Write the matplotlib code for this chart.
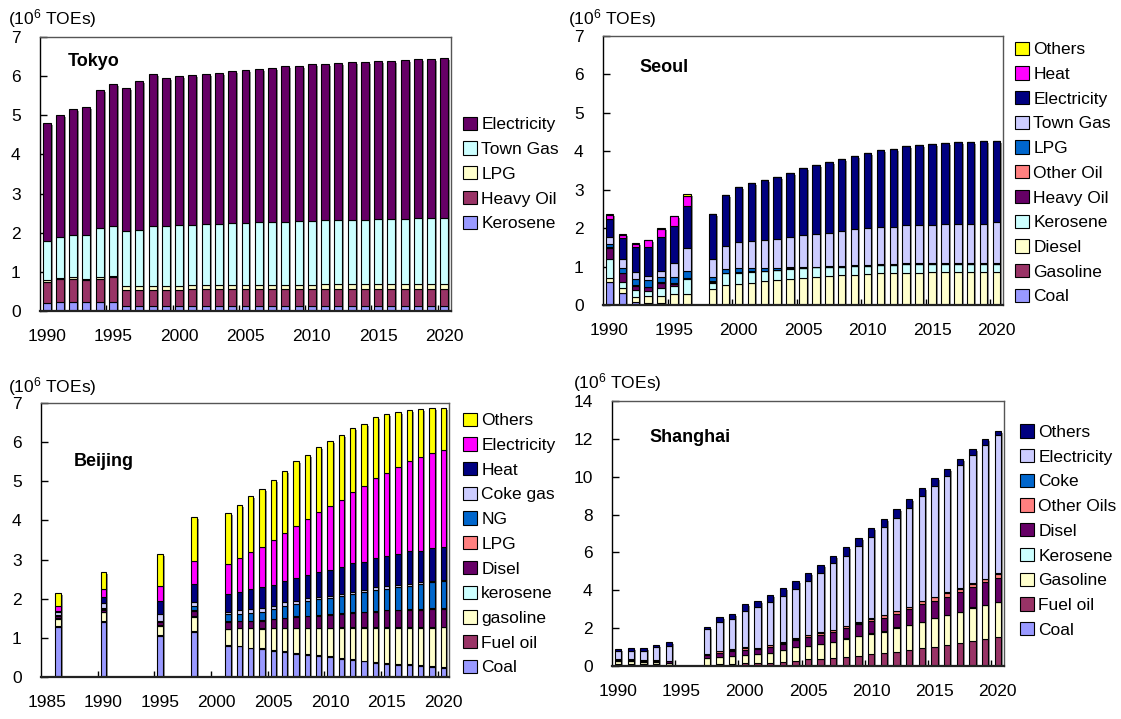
import numpy as np
import matplotlib
matplotlib.use("Agg")
import matplotlib.pyplot as plt
import matplotlib.transforms as mtransforms
from matplotlib.patches import Patch

plt.rcParams['font.family'] = ['Liberation Sans', 'DejaVu Sans']
plt.rcParams['mathtext.fontset'] = 'custom'
plt.rcParams['mathtext.rm'] = 'Liberation Sans'
plt.rcParams['mathtext.default'] = 'regular'

# ---------------- Tokyo (1990-2020) ----------------
tokyo_years = list(range(1990, 2021))
tokyo_kerosene = [0.20, 0.23, 0.23, 0.23, 0.23, 0.24, 0.12, 0.12, 0.12, 0.12, 0.12, 0.12, 0.12, 0.12, 0.12, 0.12,
                  0.12, 0.12, 0.12, 0.12, 0.12, 0.12, 0.12, 0.12, 0.12, 0.12, 0.12, 0.12, 0.12, 0.12, 0.12]
tokyo_heavy_oil = [0.55, 0.58, 0.60, 0.56, 0.60, 0.62, 0.42, 0.42, 0.42, 0.42, 0.42, 0.43, 0.43, 0.43, 0.43, 0.43,
                   0.43, 0.43, 0.43, 0.43, 0.43, 0.44, 0.44, 0.44, 0.44, 0.44, 0.44, 0.44, 0.44, 0.44, 0.44]
tokyo_lpg = [0.03, 0.03, 0.03, 0.03, 0.03, 0.03, 0.10, 0.10, 0.11, 0.11, 0.11, 0.11, 0.11, 0.11, 0.11, 0.11,
             0.12, 0.12, 0.12, 0.12, 0.12, 0.12, 0.12, 0.12, 0.12, 0.12, 0.12, 0.12, 0.13, 0.13, 0.14]
tokyo_town_gas = [1.02, 1.04, 1.09, 1.11, 1.26, 1.29, 1.41, 1.43, 1.52, 1.53, 1.55, 1.54, 1.57, 1.57, 1.60, 1.60,
                  1.61, 1.61, 1.61, 1.63, 1.63, 1.65, 1.65, 1.65, 1.65, 1.67, 1.67, 1.67, 1.69, 1.69, 1.68]
tokyo_electricity = [3.00, 3.12, 3.20, 3.27, 3.53, 3.62, 3.65, 3.81, 3.88, 3.77, 3.80, 3.82, 3.82, 3.85, 3.86, 3.89,
                     3.90, 3.92, 3.97, 3.97, 4.00, 3.97, 4.00, 4.02, 4.04, 4.03, 4.03, 4.07, 4.06, 4.06, 4.09]

# ---------------- Seoul (1990-1996, 1998-2020) ----------------
seoul_years = [1990, 1991, 1992, 1993, 1994, 1995, 1996] + list(range(1998, 2021))
seoul_coal = [0.59, 0.30, 0.07, 0.03, 0.02, 0.00, 0.00, 0.00, 0.00, 0.00, 0.00, 0.00, 0.00, 0.00, 0.00,
              0.00, 0.00, 0.00, 0.00, 0.00, 0.00, 0.00, 0.00, 0.00, 0.00, 0.00, 0.00, 0.00, 0.00, 0.00]
seoul_gasoline = [0.02, 0.02, 0.02, 0.02, 0.02, 0.01, 0.01, 0.00, 0.00, 0.00, 0.00, 0.00, 0.00, 0.00, 0.00,
                  0.00, 0.00, 0.00, 0.00, 0.00, 0.00, 0.00, 0.00, 0.00, 0.00, 0.00, 0.00, 0.00, 0.00, 0.00]
seoul_diesel = [0.09, 0.11, 0.13, 0.18, 0.19, 0.28, 0.28, 0.41, 0.51, 0.54, 0.57, 0.62, 0.64, 0.67, 0.70,
                0.72, 0.76, 0.78, 0.79, 0.81, 0.83, 0.84, 0.84, 0.84, 0.86, 0.86, 0.86, 0.86, 0.86, 0.86]
seoul_kerosene = [0.49, 0.18, 0.17, 0.14, 0.20, 0.20, 0.38, 0.17, 0.32, 0.30, 0.30, 0.26, 0.26, 0.27, 0.26,
                  0.26, 0.24, 0.22, 0.23, 0.21, 0.21, 0.20, 0.22, 0.22, 0.21, 0.21, 0.21, 0.21, 0.21, 0.21]
seoul_heavy_oil = [0.30, 0.21, 0.10, 0.09, 0.14, 0.06, 0.03, 0.03, 0.01, 0.01, 0.01, 0.01, 0.01, 0.01, 0.00,
                   0.00, 0.00, 0.00, 0.00, 0.00, 0.00, 0.00, 0.00, 0.00, 0.00, 0.00, 0.00, 0.00, 0.00, 0.00]
seoul_other_oil = [0.02, 0.02, 0.02, 0.02, 0.02, 0.02, 0.01, 0.01, 0.00, 0.00, 0.00, 0.00, 0.00, 0.00, 0.00,
                   0.00, 0.00, 0.00, 0.00, 0.00, 0.00, 0.00, 0.00, 0.00, 0.00, 0.00, 0.00, 0.00, 0.00, 0.00]
seoul_lpg = [0.09, 0.11, 0.16, 0.17, 0.14, 0.16, 0.18, 0.12, 0.09, 0.11, 0.08, 0.07, 0.05, 0.03, 0.02,
             0.02, 0.02, 0.02, 0.02, 0.02, 0.02, 0.02, 0.02, 0.02, 0.02, 0.02, 0.02, 0.02, 0.02, 0.02]
seoul_town_gas = [0.17, 0.26, 0.19, 0.10, 0.16, 0.35, 0.60, 0.46, 0.61, 0.67, 0.70, 0.74, 0.77, 0.79, 0.83,
                  0.85, 0.85, 0.91, 0.93, 0.96, 0.97, 0.98, 0.99, 1.01, 1.00, 1.02, 1.02, 1.02, 1.02, 1.06]
seoul_electricity = [0.48, 0.54, 0.65, 0.76, 0.87, 0.97, 1.08, 1.16, 1.32, 1.44, 1.51, 1.55, 1.61, 1.67, 1.76,
                     1.80, 1.84, 1.88, 1.92, 1.96, 2.00, 2.03, 2.06, 2.08, 2.10, 2.11, 2.12, 2.12, 2.15, 2.13]
seoul_heat = [0.09, 0.08, 0.09, 0.17, 0.23, 0.26, 0.26, 0.00, 0.00, 0.00, 0.00, 0.00, 0.00, 0.00, 0.00,
              0.00, 0.00, 0.00, 0.00, 0.00, 0.00, 0.00, 0.00, 0.00, 0.00, 0.00, 0.00, 0.00, 0.00, 0.00]
seoul_others = [0.03, 0.03, 0.01, 0.01, 0.01, 0.01, 0.05, 0.02, 0.00, 0.00, 0.00, 0.00, 0.00, 0.00, 0.00,
                0.00, 0.00, 0.00, 0.00, 0.00, 0.00, 0.00, 0.00, 0.00, 0.00, 0.00, 0.00, 0.00, 0.00, 0.00]

# ---------------- Beijing (1986, 1990, 1995, 1998, 2001-2020) ----------------
beijing_years = [1986, 1990, 1995, 1998] + list(range(2001, 2021))
beijing_coal = [1.28, 1.40, 1.04, 1.15, 0.80, 0.78, 0.73, 0.71, 0.67, 0.64, 0.60, 0.57, 0.54, 0.51, 0.47, 0.44,
                0.40, 0.37, 0.34, 0.31, 0.30, 0.28, 0.25, 0.23]
beijing_fuel_oil = [0.03, 0.03, 0.03, 0.03, 0.02, 0.02, 0.02, 0.02, 0.02, 0.02, 0.02, 0.02, 0.02, 0.02, 0.02, 0.02,
                    0.02, 0.02, 0.02, 0.02, 0.02, 0.02, 0.02, 0.02]
beijing_gasoline = [0.17, 0.22, 0.24, 0.36, 0.40, 0.44, 0.49, 0.50, 0.55, 0.58, 0.62, 0.65, 0.68, 0.71, 0.77, 0.80,
                    0.84, 0.87, 0.90, 0.93, 0.94, 0.96, 0.99, 1.02]
beijing_kerosene = [0.02, 0.02, 0.02, 0.02, 0.01, 0.01, 0.01, 0.01, 0.01, 0.01, 0.01, 0.01, 0.01, 0.01, 0.01, 0.01,
                    0.01, 0.01, 0.01, 0.01, 0.01, 0.01, 0.01, 0.01]
beijing_disel = [0.07, 0.04, 0.08, 0.13, 0.18, 0.17, 0.17, 0.20, 0.22, 0.25, 0.28, 0.30, 0.32, 0.34, 0.34, 0.36,
                 0.38, 0.40, 0.43, 0.43, 0.44, 0.44, 0.47, 0.46]
beijing_lpg = [0.01, 0.04, 0.02, 0.03, 0.02, 0.02, 0.02, 0.02, 0.02, 0.02, 0.02, 0.02, 0.02, 0.02, 0.02, 0.02,
               0.02, 0.02, 0.02, 0.02, 0.02, 0.02, 0.02, 0.02]
beijing_ng = [0.00, 0.01, 0.00, 0.10, 0.17, 0.17, 0.20, 0.21, 0.25, 0.30, 0.32, 0.38, 0.40, 0.42, 0.45, 0.47,
              0.50, 0.54, 0.53, 0.57, 0.59, 0.64, 0.66, 0.68]
beijing_coke_gas = [0.08, 0.12, 0.17, 0.10, 0.06, 0.09, 0.10, 0.09, 0.07, 0.09, 0.08, 0.06, 0.06, 0.05, 0.04, 0.06,
                    0.06, 0.06, 0.07, 0.06, 0.06, 0.05, 0.04, 0.05]
beijing_heat = [0.03, 0.17, 0.34, 0.45, 0.45, 0.47, 0.51, 0.53, 0.54, 0.55, 0.59, 0.60, 0.64, 0.66, 0.68, 0.73,
                0.72, 0.74, 0.77, 0.80, 0.83, 0.81, 0.83, 0.83]
beijing_electricity = [0.12, 0.21, 0.39, 0.60, 0.77, 0.86, 0.94, 1.04, 1.14, 1.22, 1.33, 1.43, 1.52, 1.64, 1.73, 1.82,
                       1.94, 2.06, 2.12, 2.22, 2.30, 2.39, 2.43, 2.49]
beijing_others = [0.34, 0.41, 0.80, 1.13, 1.30, 1.37, 1.43, 1.48, 1.55, 1.59, 1.64, 1.62, 1.67, 1.64, 1.64, 1.63,
                  1.58, 1.55, 1.51, 1.41, 1.32, 1.23, 1.15, 1.05]

# ---------------- Shanghai (1990-1994, 1997-2020) ----------------
shanghai_years = [1990, 1991, 1992, 1993, 1994] + list(range(1997, 2021))
shanghai_coal = [0.07, 0.06, 0.04, 0.03, 0.02, 0.00, 0.00, 0.00, 0.00, 0.00, 0.00, 0.00, 0.00, 0.00, 0.00,
                 0.00, 0.00, 0.00, 0.00, 0.00, 0.00, 0.00, 0.00, 0.00, 0.00, 0.00, 0.00, 0.00, 0.00]
shanghai_fuel_oil = [0.05, 0.06, 0.05, 0.06, 0.04, 0.02, 0.09, 0.13, 0.18, 0.18, 0.16, 0.20, 0.27, 0.35, 0.39,
                     0.44, 0.49, 0.53, 0.62, 0.67, 0.76, 0.83, 0.97, 1.02, 1.10, 1.24, 1.33, 1.45, 1.55]
shanghai_gasoline = [0.12, 0.13, 0.12, 0.10, 0.08, 0.40, 0.39, 0.41, 0.39, 0.45, 0.54, 0.64, 0.71, 0.69, 0.78,
                     0.83, 0.96, 1.06, 1.09, 1.15, 1.27, 1.33, 1.36, 1.52, 1.59, 1.62, 1.76, 1.77, 1.84]
shanghai_kerosene = [0.01, 0.01, 0.01, 0.01, 0.01, 0.01, 0.01, 0.01, 0.01, 0.01, 0.01, 0.01, 0.01, 0.01, 0.01,
                     0.01, 0.01, 0.01, 0.01, 0.01, 0.01, 0.01, 0.01, 0.01, 0.01, 0.01, 0.01, 0.01, 0.01]
shanghai_disel = [0.07, 0.08, 0.07, 0.08, 0.10, 0.16, 0.22, 0.25, 0.26, 0.24, 0.31, 0.31, 0.39, 0.50, 0.48,
                  0.49, 0.57, 0.61, 0.67, 0.73, 0.70, 0.83, 0.91, 0.88, 0.96, 1.02, 1.05, 1.19, 1.23]
shanghai_other_oils = [0.02, 0.02, 0.02, 0.02, 0.02, 0.02, 0.07, 0.07, 0.13, 0.08, 0.08, 0.08, 0.07, 0.07, 0.10,
                       0.11, 0.08, 0.08, 0.11, 0.12, 0.17, 0.13, 0.17, 0.20, 0.22, 0.20, 0.20, 0.16, 0.25]
shanghai_coke = [0.01, 0.01, 0.01, 0.01, 0.01, 0.01, 0.01, 0.01, 0.01, 0.01, 0.01, 0.01, 0.01, 0.01, 0.01,
                 0.01, 0.01, 0.01, 0.01, 0.01, 0.01, 0.01, 0.01, 0.01, 0.01, 0.01, 0.01, 0.01, 0.01]
shanghai_electricity = [0.43, 0.43, 0.48, 0.67, 0.77, 1.32, 1.51, 1.59, 1.90, 2.14, 2.26, 2.46, 2.60, 2.86, 3.12,
                        3.53, 3.71, 4.06, 4.29, 4.64, 4.91, 5.22, 5.55, 5.87, 6.15, 6.52, 6.77, 7.07, 7.30]
shanghai_others = [0.13, 0.13, 0.13, 0.12, 0.20, 0.14, 0.28, 0.27, 0.41, 0.35, 0.39, 0.41, 0.41, 0.44, 0.46,
                   0.41, 0.44, 0.42, 0.48, 0.44, 0.44, 0.47, 0.42, 0.44, 0.38, 0.33, 0.32, 0.32, 0.25]

# Excel-like palette
C_LAV = "#9999FF"
C_PLUM = "#993366"
C_CREAM = "#FFFFCC"
C_ICE = "#CCFFFF"
C_PURPLE = "#660066"
C_SALMON = "#FF8080"
C_BLUE = "#0066CC"
C_PERI = "#CCCCFF"
C_NAVY = "#000080"
C_MAG = "#FF00FF"
C_YEL = "#FFFF00"

W, H = 1121, 719
fig = plt.figure(figsize=(W / 100, H / 100), dpi=100)


def px_axes(l, t, r, b):
    return fig.add_axes([l / W, 1 - b / H, (r - l) / W, (b - t) / H])


def draw_panel(ax, years, series, width, ymax, ystep, xlim, xticks):
    bottom = np.zeros(len(years))
    for name, vals, col in series:
        v = np.array(vals, dtype=float)
        ax.bar(years, v, width, bottom=bottom, color=col, edgecolor="black",
               linewidth=0.8, zorder=3)
        bottom += v
    # grey drop shadow like the Excel original
    shadow = ax.transData + mtransforms.ScaledTranslation(2 / 100, -2 / 100, fig.dpi_scale_trans)
    ax.bar(years, bottom, width, color="#8f8f8f", linewidth=0, zorder=2, transform=shadow)
    ax.set_xlim(*xlim)
    ax.set_ylim(0, ymax)
    ax.set_yticks(np.arange(0, ymax + 0.1, ystep))
    ax.set_xticks(xticks)
    ax.set_xticks([x - 0.5 for x in xticks[1:]], minor=True)
    ax.tick_params(axis="x", which="major", length=0, pad=13, labelsize=12.5)
    ax.tick_params(axis="x", which="minor", direction="in", length=4, width=1)
    ax.tick_params(axis="y", direction="in", length=5, width=1, pad=14, labelsize=12.5)
    for s in ("top", "right"):
        ax.spines[s].set_color("#555555")
        ax.spines[s].set_linewidth(1.0)
    ax.spines["left"].set_linewidth(1.0)
    ax.spines["bottom"].set_linewidth(1.6)
    ax.spines["bottom"].set_color("#222222")
    ax.spines["bottom"].set_zorder(4)


def add_legend(series, x, yc):
    handles = [Patch(facecolor=c, edgecolor="black", linewidth=0.8, label=n)
               for n, v, c in reversed(series)]
    fig.legend(handles=handles, loc="center left", bbox_to_anchor=(x / W, 1 - yc / H),
               frameon=False, fontsize=12.5, handlelength=0.8, handleheight=0.8,
               handletextpad=0.25, labelspacing=0.52, borderpad=0, borderaxespad=0)


def add_labels(ux, uy, city, cx, cy):
    fig.text(ux / W, 1 - uy / H, "(10$^{6}$ TOEs)", fontsize=12.5, ha="left", va="center")
    fig.text(cx / W, 1 - cy / H, city, fontsize=13, fontweight="bold", ha="left", va="center")


# Tokyo
tokyo_series = [("Kerosene", tokyo_kerosene, C_LAV), ("Heavy Oil", tokyo_heavy_oil, C_PLUM),
                ("LPG", tokyo_lpg, C_CREAM), ("Town Gas", tokyo_town_gas, C_ICE),
                ("Electricity", tokyo_electricity, C_PURPLE)]
ax1 = px_axes(40, 37, 451, 311)
draw_panel(ax1, tokyo_years, tokyo_series, 0.6, 7, 1, (1989.5, 2020.5), list(range(1990, 2021, 5)))
add_legend(tokyo_series, 463, 174)
add_labels(8, 19, "Tokyo", 68, 62)

# Seoul
seoul_series = [("Coal", seoul_coal, C_LAV), ("Gasoline", seoul_gasoline, C_PLUM),
                ("Diesel", seoul_diesel, C_CREAM), ("Kerosene", seoul_kerosene, C_ICE),
                ("Heavy Oil", seoul_heavy_oil, C_PURPLE), ("Other Oil", seoul_other_oil, C_SALMON),
                ("LPG", seoul_lpg, C_BLUE), ("Town Gas", seoul_town_gas, C_PERI),
                ("Electricity", seoul_electricity, C_NAVY), ("Heat", seoul_heat, C_MAG),
                ("Others", seoul_others, C_YEL)]
ax2 = px_axes(603, 36, 1003, 305)
draw_panel(ax2, seoul_years, seoul_series, 0.58, 7, 1, (1989.5, 2020.5), list(range(1990, 2021, 5)))
add_legend(seoul_series, 1015, 173)
add_labels(568, 19, "Seoul", 639, 67)

# Beijing
beijing_series = [("Coal", beijing_coal, C_LAV), ("Fuel oil", beijing_fuel_oil, C_PLUM),
                  ("gasoline", beijing_gasoline, C_CREAM), ("kerosene", beijing_kerosene, C_ICE),
                  ("Disel", beijing_disel, C_PURPLE), ("LPG", beijing_lpg, C_SALMON),
                  ("NG", beijing_ng, C_BLUE), ("Coke gas", beijing_coke_gas, C_PERI),
                  ("Heat", beijing_heat, C_NAVY), ("Electricity", beijing_electricity, C_MAG),
                  ("Others", beijing_others, C_YEL)]
ax3 = px_axes(41, 403, 449, 677)
draw_panel(ax3, beijing_years, beijing_series, 0.45, 7, 1, (1984.5, 2020.5), list(range(1985, 2021, 5)))
add_legend(beijing_series, 463, 544)
add_labels(8, 387, "Beijing", 74, 461)

# Shanghai
shanghai_series = [("Coal", shanghai_coal, C_LAV), ("Fuel oil", shanghai_fuel_oil, C_PLUM),
                   ("Gasoline", shanghai_gasoline, C_CREAM), ("Kerosene", shanghai_kerosene, C_ICE),
                   ("Disel", shanghai_disel, C_PURPLE), ("Other Oils", shanghai_other_oils, C_SALMON),
                   ("Coke", shanghai_coke, C_BLUE), ("Electricity", shanghai_electricity, C_PERI),
                   ("Others", shanghai_others, C_NAVY)]
ax4 = px_axes(612, 401, 1004, 666)
draw_panel(ax4, shanghai_years, shanghai_series, 0.5, 14, 2, (1989.5, 2020.5), list(range(1990, 2021, 5)))
add_legend(shanghai_series, 1020, 531)
add_labels(573, 383, "Shanghai", 649, 437)

fig.savefig("out.png", dpi=100)
